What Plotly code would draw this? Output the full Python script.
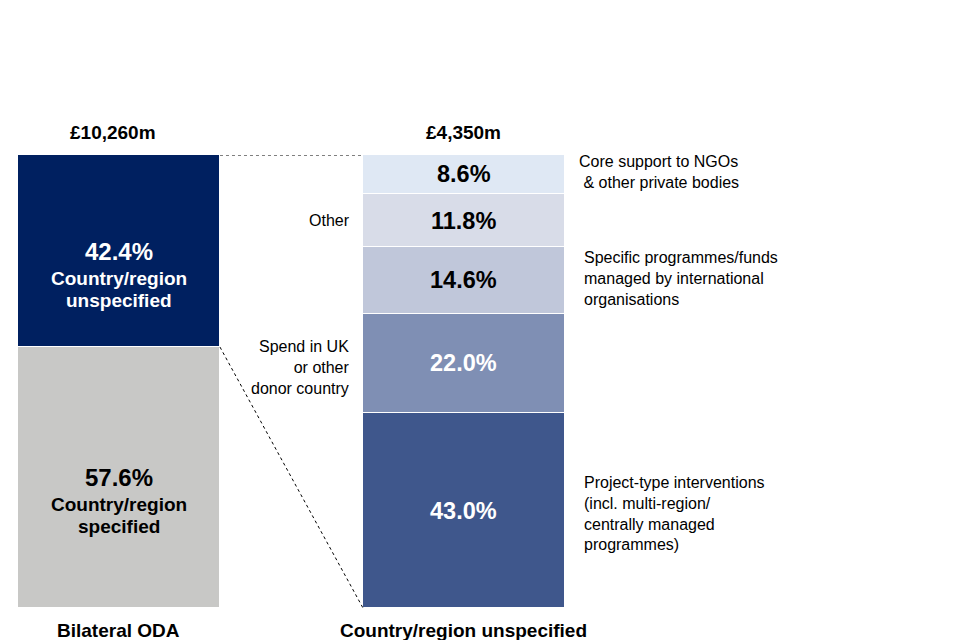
import plotly.graph_objects as go

# ---- data ----
bar_names = ["Bilateral ODA", "Country/region unspecified"]
bar_totals = ["£10,260m", "£4,350m"]

left_labels = ["Country/region\nspecified", "Country/region\nunspecified"]   # bottom -> top
left_values = [57.6, 42.4]
left_colors = ["#c8c8c6", "#002060"]
left_text_colors = ["#000000", "#ffffff"]

right_labels = [
    "Project-type interventions<br>(incl. multi-region/<br>centrally managed<br>programmes)",
    "Spend in UK<br>or other<br>donor country",
    "Specific programmes/funds<br>managed by international<br>organisations",
    "Other",
    "Core support to NGOs<br> & other private bodies",
]  # bottom -> top
right_values = [43.0, 22.0, 14.6, 11.8, 8.6]
right_colors = ["#3f578c", "#7f8fb4", "#c0c7da", "#d8dce8", "#dfe8f4"]
right_text_colors = ["#ffffff", "#ffffff", "#000000", "#000000", "#000000"]
right_label_side = ["right", "left", "right", "left", "right"]
right_label_yshift = [-3, -4, 2, 0, 2]

FONT = "Liberation Sans, Arial, sans-serif"
W = 0.5855  # bar width in category units

fig = go.Figure()

for v, c in zip(left_values, left_colors):
    fig.add_trace(go.Bar(x=[0], y=[v], width=W, marker=dict(color=c, line=dict(color="white", width=1.5)),
                         hoverinfo="skip", showlegend=False))
for v, c in zip(right_values, right_colors):
    fig.add_trace(go.Bar(x=[1], y=[v], width=W, marker=dict(color=c, line=dict(color="white", width=1.5)),
                         hoverinfo="skip", showlegend=False))

ann = []
# left bar texts
base = 0
for v, lab, tc in zip(left_values, left_labels, left_text_colors):
    mid = base + v / 2
    ann.append(dict(x=0, y=mid, xref="x", yref="y", text=f"<b>{v:.1f}%</b>", showarrow=False,
                    font=dict(family=FONT, size=24, color=tc), xanchor="center", yanchor="middle"))
    for i, line in enumerate(lab.split("\n")):
        ann.append(dict(x=0, y=mid, xref="x", yref="y", text=f"<b>{line}</b>", showarrow=False,
                        font=dict(family=FONT, size=19, color=tc), xanchor="center", yanchor="middle",
                        yshift=-(27 + 22 * i)))
    base += v

# right bar texts
base = 0
for v, lab, tc, side, ys in zip(right_values, right_labels, right_text_colors, right_label_side, right_label_yshift):
    mid = base + v / 2
    ann.append(dict(x=1, y=mid, xref="x", yref="y", text=f"<b>{v:.1f}%</b>", showarrow=False,
                    font=dict(family=FONT, size=23.5, color=tc), xanchor="center", yanchor="middle"))
    if side == "right":
        ann.append(dict(x=1 + W / 2, y=mid, xref="x", yref="y", text=lab, showarrow=False,
                        font=dict(family=FONT, size=16, color="#000000"), xanchor="left", yanchor="middle",
                        align="left", xshift=12 if v < 10 else 17, yshift=ys))
    else:
        ann.append(dict(x=1 - W / 2, y=mid, xref="x", yref="y", text=lab, showarrow=False,
                        font=dict(family=FONT, size=16, color="#000000"), xanchor="right", yanchor="middle",
                        align="right", xshift=-11, yshift=ys))
    base += v

# totals above and names below
total_xshift = [-6, 0]
for i, (t, n) in enumerate(zip(bar_totals, bar_names)):
    ann.append(dict(x=i, y=100, xref="x", yref="y", text=f"<b>{t}</b>", showarrow=False,
                    font=dict(family=FONT, size=19, color="#000000"), xanchor="center", yanchor="bottom",
                    yshift=10, xshift=total_xshift[i]))
    ann.append(dict(x=i, y=0, xref="x", yref="y", text=f"<b>{n}</b>", showarrow=False,
                    font=dict(family=FONT, size=19, color="#000000"), xanchor="center", yanchor="top",
                    yshift=-10))

shapes = [
    dict(type="line", xref="x", yref="y", x0=W / 2, y0=100, x1=1 - W / 2, y1=100,
         line=dict(color="#000000", width=1, dash="dot")),
    dict(type="line", xref="x", yref="y", x0=W / 2, y0=left_values[0], x1=1 - W / 2, y1=0,
         line=dict(color="#000000", width=1, dash="dot")),
]

fig.update_layout(
    barmode="stack",
    bargap=0,
    width=952, height=632,
    margin=dict(l=0, r=0, t=147, b=32),
    paper_bgcolor="white", plot_bgcolor="white",
    xaxis=dict(range=[-0.3217, 2.4377], visible=False, fixedrange=True),
    yaxis=dict(range=[0, 100], visible=False, fixedrange=True),
    annotations=ann,
    shapes=shapes,
    font=dict(family=FONT),
)

fig.write_html("out.html")
